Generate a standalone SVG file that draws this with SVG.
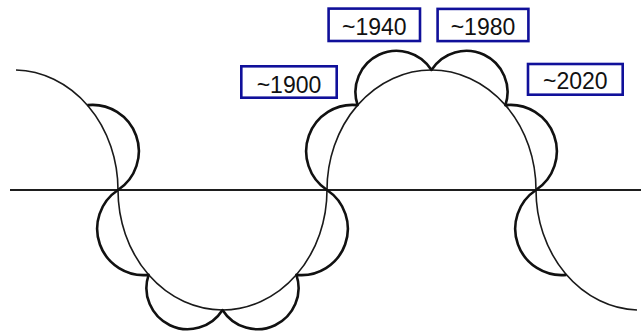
<svg xmlns="http://www.w3.org/2000/svg" width="641" height="333" viewBox="0 0 641 333">
<style>
.big{fill:none;stroke:#1a1a1a;stroke-width:1.6}
.lobe{fill:none;stroke:#111;stroke-width:2.6;stroke-linejoin:round}
.axis{fill:none;stroke:#1e1e1e;stroke-width:2}
.box{fill:#fff;stroke:#10109a;stroke-width:2.6}
.lbl{font-family:"Liberation Sans",Arial,sans-serif;font-size:23px;fill:#111;text-anchor:middle}
</style>
<rect width="641" height="333" fill="#fff"/>
<g id="curves">
<path class="axis" d="M10,190 H641"/>
<path class="big" d="M16,70 A104.5,120 0 0 1 118,190"/>
<path class="big" d="M118,190 A104.5,120 0 0 0 327,190"/>
<path class="big" d="M327,190 A104.5,120 0 0 1 536,190"/>
<path class="big" d="M536,190 A104.5,120 0 0 0 637,310"/>
<path class="lobe" d="M87.39,105.15 A46.4,46.4 0 0 1 118,190"/>
<path class="lobe" d="M118,190 A46.4,46.4 0 0 0 148.61,274.85 A41.2,41.2 0 0 0 222.5,310 A41.2,41.2 0 0 0 296.39,274.85 A46.4,46.4 0 0 0 327,190"/>
<path class="lobe" d="M327,190 A46.4,46.4 0 0 1 357.61,105.15 A41.2,41.2 0 0 1 431.5,70 A41.2,41.2 0 0 1 505.39,105.15 A46.4,46.4 0 0 1 536,190"/>
<path class="lobe" d="M536,190 A46.4,46.4 0 0 0 566.39,274.85"/>
</g>
<g id="label-1900">
<rect class="box" x="241.3" y="66.3" width="95.4" height="31.4"/>
<text class="lbl" x="289" y="93">~1900</text>
</g>
<g id="label-1940">
<rect class="box" x="328.6" y="8.6" width="91.4" height="32.4"/>
<text class="lbl" x="374.3" y="34.6">~1940</text>
</g>
<g id="label-1980">
<rect class="box" x="437.6" y="8.9" width="90.8" height="32.2"/>
<text class="lbl" x="483" y="34.6">~1980</text>
</g>
<g id="label-2020">
<rect class="box" x="528" y="64" width="94.7" height="30.7"/>
<text class="lbl" x="575.3" y="89.3">~2020</text>
</g>
</svg>
